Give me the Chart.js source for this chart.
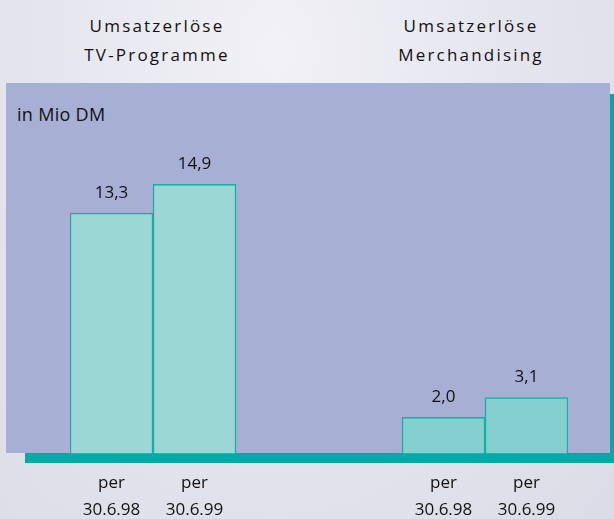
<!DOCTYPE html>
<html>
<head>
<meta charset="utf-8">
<script src="https://cdn.jsdelivr.net/npm/chart.js@4"></script>
<style>
html, body { margin: 0; padding: 0; }
body {
    width: 614px; height: 519px; position: relative; overflow: hidden;
    background: radial-gradient(ellipse at 45% 10%, #f1f1f6 0%, #e6e6ef 45%, #dcdce8 100%);
    font-family: "Open Sans", sans-serif; color: #111;
}
#shadow { position: absolute; left: 25px; top: 94px; width: 600px; height: 369px; background: #00aaa5; }
#panel { position: absolute; left: 6px; top: 83px; width: 604px; height: 370px; background: #a8afd5; }
.title { position: absolute; top: 11px; width: 240px; text-align: center; font-size: 17px; line-height: 29px; letter-spacing: 2.2px; }
#unit { position: absolute; left: 17px; top: 102px; font-size: 18px; letter-spacing: 0.3px; }
#chart { position: absolute; left: 0; top: 0; }
</style>
</head>
<body>
<div id="shadow"></div>
<div id="panel"></div>
<div class="title" style="left:37px">Umsatzerlöse<br>TV-Programme</div>
<div class="title" style="left:351px">Umsatzerlöse<br>Merchandising</div>
<div id="unit">in Mio DM</div>
<canvas id="chart" width="614" height="540"></canvas>
<script>
var categories = [['per', '30.6.98'], ['per', '30.6.99'], ['per', '30.6.98'], ['per', '30.6.99']];
var values = [13.3, 14.9, 2.0, 3.1];
var barColors = ['#9ad7d5', '#9ad7d5', '#83d0cf', '#83d0cf'];

// two empty slots between the groups
var labels = [categories[0], categories[1], '', '', categories[2], categories[3]];
var data = [values[0], values[1], null, null, values[2], values[3]];
var colors = [barColors[0], barColors[1], null, null, barColors[2], barColors[3]];

Chart.defaults.font.family = '"Open Sans", sans-serif';
Chart.defaults.color = '#111';

var valueLabels = {
    id: 'valueLabels',
    afterDatasetsDraw: function (chart) {
        var ctx = chart.ctx;
        var meta = chart.getDatasetMeta(0);
        ctx.save();
        ctx.font = '17px "Open Sans"';
        ctx.fillStyle = '#111';
        ctx.textAlign = 'center';
        ctx.textBaseline = 'middle';
        meta.data.forEach(function (bar, i) {
            var v = chart.data.datasets[0].data[i];
            if (v == null) return;
            ctx.fillText(v.toFixed(1).replace('.', ','), bar.x, bar.y - 20);
        });
        ctx.restore();
    }
};

var config = {
    type: 'bar',
    data: {
        labels: labels,
        datasets: [{
            data: data,
            backgroundColor: colors,
            borderColor: '#15afa8',
            borderWidth: 1.5,
            barPercentage: 1,
            categoryPercentage: 1
        }]
    },
    options: {
        responsive: false,
        devicePixelRatio: 1,
        animation: false,
        layout: { padding: { left: 70, right: 46, top: 83, bottom: 0 } },
        plugins: { legend: { display: false }, tooltip: { enabled: false } },
        scales: {
            x: {
                grid: { display: false, drawTicks: false },
                border: { display: false },
                ticks: { padding: 16, font: { size: 17, lineHeight: 1.6 }, maxRotation: 0, autoSkip: false }
            },
            y: { display: false, min: 0, max: 20.5 }
        }
    },
    plugins: [valueLabels]
};

var ctx = document.getElementById('chart').getContext('2d');
window.myBar = new Chart(ctx, config);
</script>
</body>
</html>
